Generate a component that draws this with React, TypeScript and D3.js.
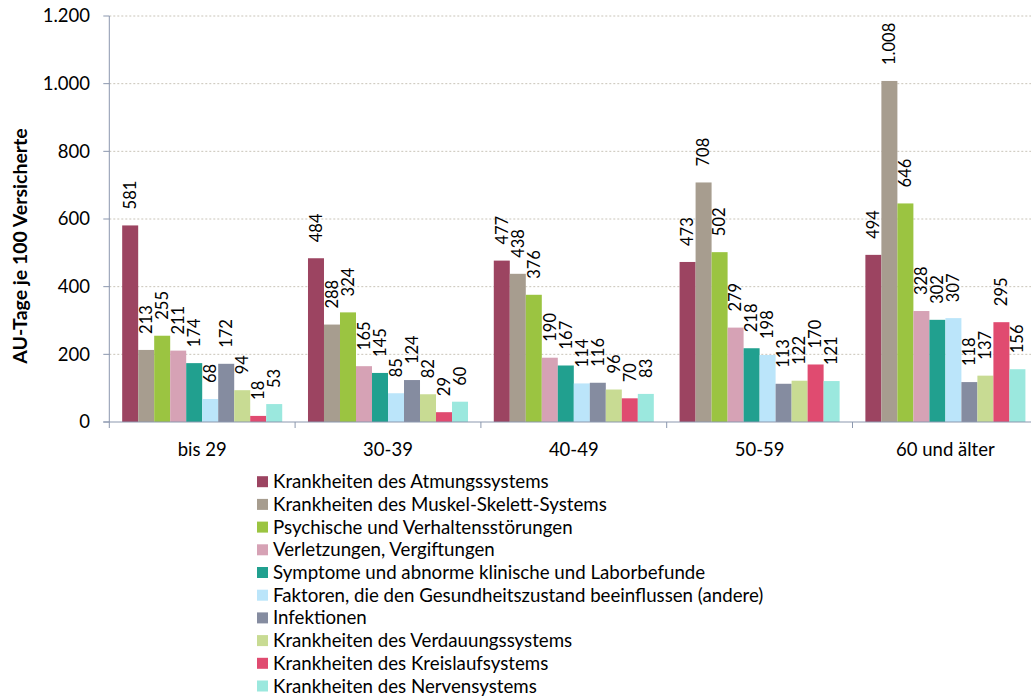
import React, { useEffect, useRef } from 'react'
import * as d3 from 'd3'

const groups = ['bis 29', '30-39', '40-49', '50-59', '60 und älter']

const seriesNames = [
  'Krankheiten des Atmungssystems',
  'Krankheiten des Muskel-Skelett-Systems',
  'Psychische und Verhaltensstörungen',
  'Verletzungen, Vergiftungen',
  'Symptome und abnorme klinische und Laborbefunde',
  'Faktoren, die den Gesundheitszustand beeinflussen (andere)',
  'Infektionen',
  'Krankheiten des Verdauungssystems',
  'Krankheiten des Kreislaufsystems',
  'Krankheiten des Nervensystems',
]

const seriesColors = [
  '#9C4461', '#A79D8F', '#9BC441', '#D6A2B5', '#21A08F',
  '#BBE5FA', '#858CA0', '#C8DB93', '#E04B70', '#9BE8DE',
]

// values per age group, in series order
const bis29 = [581, 213, 255, 211, 174, 68, 172, 94, 18, 53]
const age30 = [484, 288, 324, 165, 145, 85, 124, 82, 29, 60]
const age40 = [477, 438, 376, 190, 167, 114, 116, 96, 70, 83]
const age50 = [473, 708, 502, 279, 218, 198, 113, 122, 170, 121]
const age60 = [494, 1008, 646, 328, 302, 307, 118, 137, 295, 156]
const groupValues = [bis29, age30, age40, age50, age60]

const yTicks = [0, 200, 400, 600, 800, 1000, 1200]

const font = 'Lato, "Open Sans", sans-serif'
const fmt = (v: number) => d3.format(',')(v).replace(/,/g, '.')

const App: React.FC = () => {
  const ref = useRef<SVGSVGElement>(null)

  useEffect(() => {
    const svg = d3.select(ref.current)
    svg.selectAll('*').remove()

    const left = 109.3
    const groupW = 185.8
    const top = 16
    const bottom = 422

    const x0 = d3.scaleBand().domain(groups).range([left, left + groupW * groups.length]).padding(0)
    const x1 = d3.scaleBand().domain(seriesNames).range([0, x0.bandwidth()]).paddingOuter(0.805).paddingInner(0)
    const y = d3.scaleLinear().domain([0, 1200]).range([bottom, top])

    // grid
    svg.append('g')
      .selectAll('line')
      .data(yTicks.slice(1))
      .enter()
      .append('line')
      .attr('x1', left)
      .attr('x2', 1031)
      .attr('y1', (d) => y(d))
      .attr('y2', (d) => y(d))
      .attr('stroke', '#C9C4B8')
      .attr('stroke-dasharray', '2,2')
      .attr('stroke-width', 1)

    // y tick labels
    svg.append('g')
      .selectAll('text')
      .data(yTicks)
      .enter()
      .append('text')
      .attr('x', 90)
      .attr('y', (d) => y(d))
      .attr('dy', '0.35em')
      .attr('text-anchor', 'end')
      .style('font-family', font)
      .style('font-size', '18.5px')
      .attr('fill', '#000')
      .text((d) => fmt(d))

    // y ticks
    svg.append('g')
      .selectAll('line')
      .data(yTicks)
      .enter()
      .append('line')
      .attr('x1', left - 6)
      .attr('x2', left)
      .attr('y1', (d) => y(d))
      .attr('y2', (d) => y(d))
      .attr('stroke', '#8B97AE')

    // bars
    const g = svg.append('g')
      .selectAll('g')
      .data(groupValues)
      .enter()
      .append('g')
      .attr('transform', (_, i) => `translate(${x0(groups[i])},0)`)

    g.selectAll('rect')
      .data((d) => d)
      .enter()
      .append('rect')
      .attr('x', (_, i) => x1(seriesNames[i]) as number)
      .attr('y', (d) => y(d))
      .attr('width', x1.bandwidth())
      .attr('height', (d) => bottom - y(d))
      .attr('fill', (_, i) => seriesColors[i])

    g.selectAll('text')
      .data((d) => d)
      .enter()
      .append('text')
      .attr('transform', (d, i) => {
        const cx = (x1(seriesNames[i]) as number) + x1.bandwidth() / 2
        return `translate(${cx},${y(d) - 16}) rotate(-90)`
      })
      .attr('dy', '0.35em')
      .attr('text-anchor', 'start')
      .style('font-family', font)
      .style('font-size', '16.5px')
      .attr('fill', '#000')
      .text((d) => fmt(d))

    // axes lines
    svg.append('line')
      .attr('x1', left).attr('x2', left)
      .attr('y1', top).attr('y2', bottom + 6)
      .attr('stroke', '#8B97AE')
    svg.append('line')
      .attr('x1', left - 6).attr('x2', 1031)
      .attr('y1', bottom).attr('y2', bottom)
      .attr('stroke', '#8B97AE')

    svg.append('g')
      .selectAll('line')
      .data(d3.range(1, groups.length + 1))
      .enter()
      .append('line')
      .attr('x1', (d) => left + d * groupW)
      .attr('x2', (d) => left + d * groupW)
      .attr('y1', bottom)
      .attr('y2', bottom + 6)
      .attr('stroke', '#8B97AE')

    // x labels
    svg.append('g')
      .selectAll('text')
      .data(groups)
      .enter()
      .append('text')
      .attr('x', (d) => (x0(d) as number) + x0.bandwidth() / 2)
      .attr('y', 456)
      .attr('text-anchor', 'middle')
      .style('font-family', font)
      .style('font-size', '18.5px')
      .attr('fill', '#000')
      .text((d) => d)

    // y title
    svg.append('text')
      .attr('transform', `translate(20,${246}) rotate(-90)`)
      .attr('dy', '0.35em')
      .attr('text-anchor', 'middle')
      .style('font-family', font)
      .style('font-size', '19.5px')
      .style('font-weight', 'bold')
      .attr('fill', '#000')
      .text('AU-Tage je 100 Versicherte')

    // legend
    const lg = svg.append('g')
      .selectAll('g')
      .data(seriesNames)
      .enter()
      .append('g')
      .attr('transform', (_, i) => `translate(257,${481.7 + i * 22.7})`)
    lg.append('rect')
      .attr('x', 0)
      .attr('y', -5.5)
      .attr('width', 11)
      .attr('height', 11)
      .attr('fill', (_, i) => seriesColors[i])
    lg.append('text')
      .attr('x', 16)
      .attr('y', 0)
      .attr('dy', '0.35em')
      .style('font-family', font)
      .style('font-size', '18.7px')
      .attr('fill', '#000')
      .text((d) => d)
  }, [])

  return (
    <svg
      ref={ref}
      width={1031}
      height={698}
      style={{ position: 'absolute', left: 0, top: 0, background: '#fff' }}
    />
  )
}

export default App
